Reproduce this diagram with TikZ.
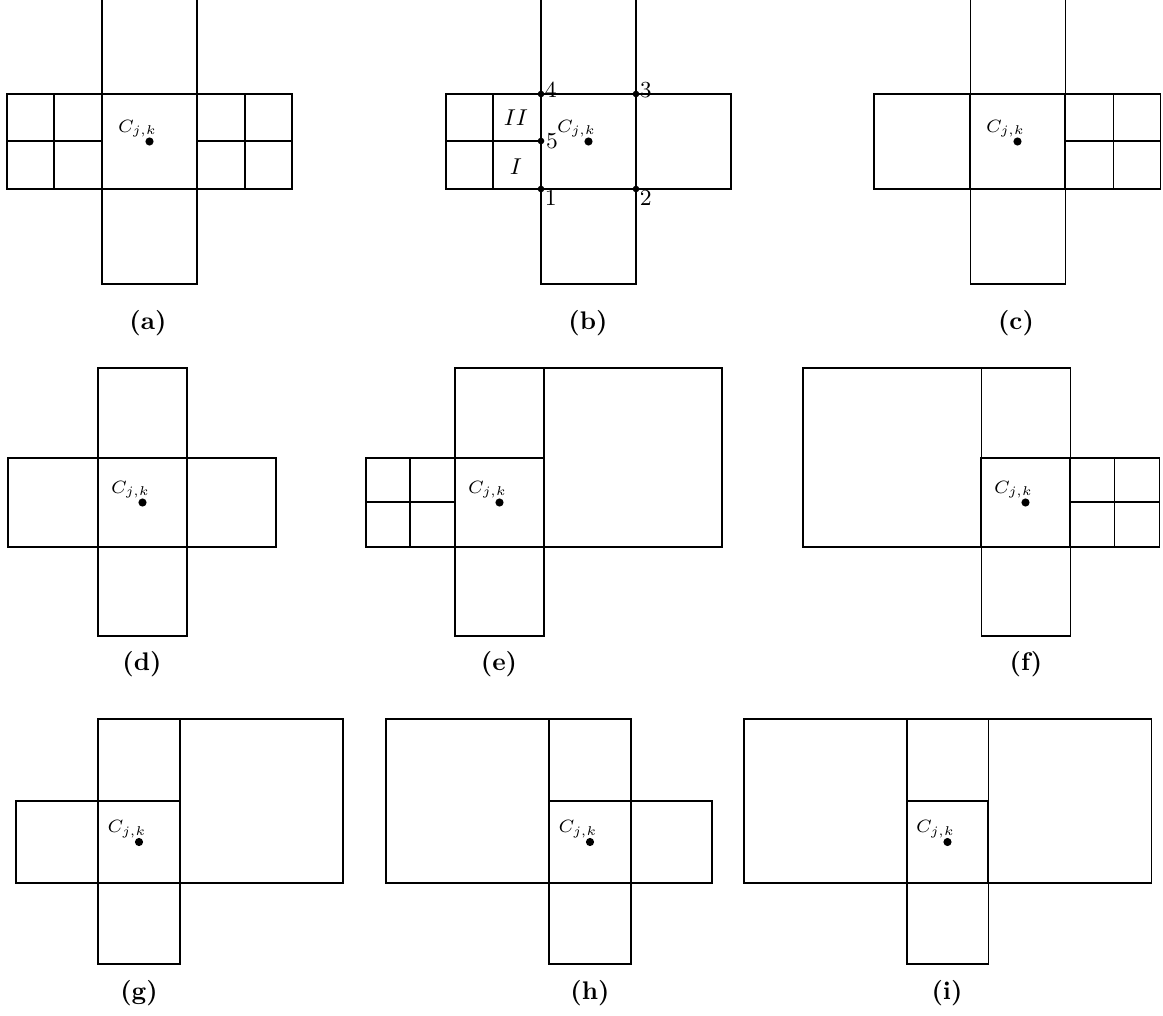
\documentclass[tikz,border=0pt]{standalone}
\usetikzlibrary{positioning}
\tikzset{
    cell/.style={
        draw=black,
        line width=0.4pt
    },
    centrecell/.style={
        cell,
        line width=0.5pt
    },
    centredot/.style={
        circle,
        fill=black,
        inner sep=0pt,
        minimum size=3.2pt
    },
    vertexdot/.style={
        circle,
        fill=black,
        inner sep=0pt,
        minimum size=2.6pt
    },
    centrelabel/.style={
        font=\scriptsize,
        inner sep=0pt
    },
    vertexlabel/.style={
        font=\small,
        inner sep=0.3pt
    },
    panellabel/.style={
        font=\bfseries
    }
}
\begin{document}
\begin{tikzpicture}[x=0.0138cm,y=-0.0138cm]
    \useasboundingbox (0,0) rectangle (1163,1016);

    % (a)
    \draw[centrecell] (102,94) rectangle (197,189);
    \draw[cell] (102,-5) rectangle (197,94);
    \draw[cell] (102,189) rectangle (197,284);
    \draw[cell] (7,94) rectangle (102,189);
    \draw[cell] (54,94) -- (54,189);
    \draw[cell] (7,141) -- (102,141);
    \draw[cell] (197,94) rectangle (292,189);
    \draw[cell] (245,94) -- (245,189);
    \draw[cell] (197,141) -- (292,141);
    \node[centredot] (dotA) at (149.5,141.5) {};
    \node[centrelabel] (labA) at ([shift={(-12,-13)}]dotA) {$C_{j,k}$};
    \node[panellabel] (capA) at (148,323) {(a)};

    % (b)
    \draw[centrecell] (541,94) rectangle (636,189);
    \draw[cell] (541,-5) rectangle (636,94);
    \draw[cell] (541,189) rectangle (636,284);
    \draw[cell] (446,94) rectangle (541,189);
    \draw[cell] (493,94) -- (493,189);
    \draw[cell] (446,141) -- (541,141);
    \draw[cell] (636,94) rectangle (731,189);
    \draw[line width=0.8pt] (541,94) -- (541,189);
    \node[centredot] (dotB) at (588.5,141.5) {};
    \node[centrelabel] (labB) at ([shift={(-12,-13)}]dotB) {$C_{j,k}$};
    \node[vertexdot] (v1) at (541,189) {};
    \node[vertexdot] (v2) at (636,189) {};
    \node[vertexdot] (v3) at (636,94) {};
    \node[vertexdot] (v4) at (541,94) {};
    \node[vertexdot] (v5) at (541,141) {};
    \node[vertexlabel, below right=-1pt and 0pt of v1] (n1) {1};
    \node[vertexlabel, below right=-1pt and 0pt of v2] (n2) {2};
    \node[vertexlabel, above right=-3pt and 0pt of v3] (n3) {3};
    \node[vertexlabel, above right=-3pt and 0pt of v4] (n4) {4};
    \node[vertexlabel, right=0pt of v5] (n5) {5};
    \node[font=\small] (zoneII) at (516,118) {$II$};
    \node[font=\small] (zoneI) at (516,167) {$I$};
    \node[panellabel] (capB) at (588,323) {(b)};

    % (c)
    \draw[centrecell] (970,94) rectangle (1065,189);
    \draw[cell] (970,-5) rectangle (1065,94);
    \draw[cell] (970,189) rectangle (1065,284);
    \draw[cell] (874,94) rectangle (970,189);
    \draw[cell] (1065,94) rectangle (1160,189);
    \draw[cell] (1113,94) -- (1113,189);
    \draw[cell] (1065,141) -- (1160,141);
    \node[centredot] (dotC) at (1017.5,141.5) {};
    \node[centrelabel] (labC) at ([shift={(-12,-13)}]dotC) {$C_{j,k}$};
    \node[panellabel] (capC) at (1016,323) {(c)};

    % (d)
    \draw[centrecell] (98,458) rectangle (187,547);
    \draw[cell] (98,368) rectangle (187,458);
    \draw[cell] (98,547) rectangle (187,636);
    \draw[cell] (8,458) rectangle (98,547);
    \draw[cell] (187,458) rectangle (276,547);
    \node[centredot] (dotD) at (142.5,502.5) {};
    \node[centrelabel] (labD) at ([shift={(-12,-13)}]dotD) {$C_{j,k}$};
    \node[panellabel] (capD) at (142,664) {(d)};

    % (e)
    \draw[centrecell] (455,458) rectangle (544,547);
    \draw[cell] (455,368) rectangle (544,458);
    \draw[cell] (455,547) rectangle (544,636);
    \draw[cell] (366,458) rectangle (455,547);
    \draw[cell] (410,458) -- (410,547);
    \draw[cell] (366,502) -- (455,502);
    \draw[cell] (544,368) rectangle (722,547);
    \node[centredot] (dotE) at (499.5,502.5) {};
    \node[centrelabel] (labE) at ([shift={(-12,-13)}]dotE) {$C_{j,k}$};
    \node[panellabel] (capE) at (499,664) {(e)};

    % (f)
    \draw[centrecell] (981,458) rectangle (1070,547);
    \draw[cell] (981,368) rectangle (1070,458);
    \draw[cell] (981,547) rectangle (1070,636);
    \draw[cell] (1070,458) rectangle (1159,547);
    \draw[cell] (1114,458) -- (1114,547);
    \draw[cell] (1070,502) -- (1159,502);
    \draw[cell] (803,368) rectangle (981,547);
    \node[centredot] (dotF) at (1025.5,502.5) {};
    \node[centrelabel] (labF) at ([shift={(-12,-13)}]dotF) {$C_{j,k}$};
    \node[panellabel] (capF) at (1026,664) {(f)};

    % (g)
    \draw[centrecell] (98,801) rectangle (180,883);
    \draw[cell] (98,719) rectangle (180,801);
    \draw[cell] (98,883) rectangle (180,964);
    \draw[cell] (16,801) rectangle (98,883);
    \draw[cell] (180,719) rectangle (343,883);
    \node[centredot] (dotG) at (139,842) {};
    \node[centrelabel] (labG) at ([shift={(-12,-13)}]dotG) {$C_{j,k}$};
    \node[panellabel] (capG) at (139,993) {(g)};

    % (h)
    \draw[centrecell] (549,801) rectangle (631,883);
    \draw[cell] (549,719) rectangle (631,801);
    \draw[cell] (549,883) rectangle (631,964);
    \draw[cell] (631,801) rectangle (712,883);
    \draw[cell] (386,719) rectangle (549,883);
    \node[centredot] (dotH) at (590,842) {};
    \node[centrelabel] (labH) at ([shift={(-12,-13)}]dotH) {$C_{j,k}$};
    \node[panellabel] (capH) at (590,993) {(h)};

    % (i)
    \draw[centrecell] (907,801) rectangle (988,883);
    \draw[cell] (907,719) rectangle (988,801);
    \draw[cell] (907,883) rectangle (988,964);
    \draw[cell] (744,719) rectangle (907,883);
    \draw[cell] (988,719) rectangle (1151,883);
    \node[centredot] (dotI) at (947.5,842) {};
    \node[centrelabel] (labI) at ([shift={(-12,-13)}]dotI) {$C_{j,k}$};
    \node[panellabel] (capI) at (947,993) {(i)};
\end{tikzpicture}
\end{document}
